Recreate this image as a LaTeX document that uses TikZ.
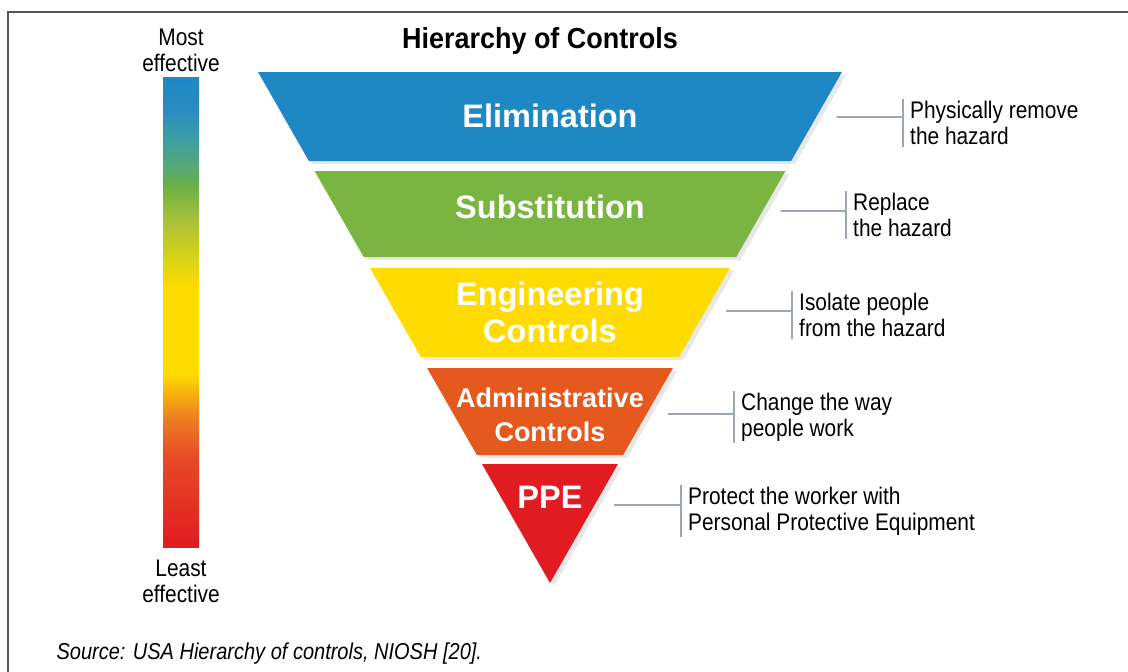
\documentclass[tikz,border=0pt]{standalone}
\usepackage{fontspec}
\setmainfont{Liberation Sans}
\newfontfamily\notefont[FakeStretch=0.87]{Liberation Sans}
\newfontfamily\titlefont[FakeStretch=0.93]{Liberation Sans}
\usetikzlibrary{shadows}

\definecolor{elimblue}{HTML}{1D88C4}
\definecolor{substgreen}{HTML}{7AB541}
\definecolor{engyellow}{HTML}{FFDC00}
\definecolor{adminorange}{HTML}{E5581E}
\definecolor{ppered}{HTML}{E11B22}
\definecolor{linkgray}{HTML}{9CA6AE}
\definecolor{framegray}{HTML}{555555}
\definecolor{scaleA}{HTML}{E64A26}
\definecolor{scaleB}{HTML}{EE7B22}
\definecolor{scaleC}{HTML}{F7B50C}
\definecolor{scaleD}{HTML}{DCD416}
\definecolor{scaleE}{HTML}{A6C03A}
\definecolor{scaleF}{HTML}{6AAF45}
\definecolor{scaleG}{HTML}{5BAA6E}
\definecolor{scaleH}{HTML}{3D9EA5}
\definecolor{scaleI}{HTML}{2A8CC0}

% the path covers 25bp to 75bp of the shading
\pgfdeclareverticalshading{effbar}{100bp}{%
  color(0bp)=(ppered); color(25bp)=(ppered); color(34.5bp)=(scaleA);
  color(38.5bp)=(scaleB); color(41.5bp)=(scaleC); color(43.5bp)=(engyellow);
  color(52.5bp)=(engyellow); color(55.5bp)=(scaleD); color(60bp)=(scaleE);
  color(63.5bp)=(scaleF); color(65bp)=(scaleG); color(68.5bp)=(scaleH);
  color(71.5bp)=(scaleI); color(75bp)=(elimblue); color(100bp)=(elimblue)}

\begin{document}
\begin{tikzpicture}[x=1pt, y=-1pt,
    layer/.style={drop shadow={shadow xshift=4pt, shadow yshift=-3pt, opacity=0.18}},
    layertext/.style={text=white, align=center, font=\bfseries\fontsize{32.5}{37}\selectfont},
    note/.style={anchor=west, align=left, inner xsep=7pt, inner ysep=2pt, font=\notefont\fontsize{24}{26}\selectfont},
    bar/.style={draw=linkgray, line width=1.6pt},
  ]
  \useasboundingbox (0,0) rectangle (1128,672);
  \draw[framegray, line width=1.6pt] (8,672) -- (8,12) -- (1128,12);

  \node[font=\titlefont\bfseries\fontsize{29}{32}\selectfont] (title) at (540,41) {Hierarchy of Controls};

  % effectiveness scale
  \shade[shading=effbar] (163,77) rectangle (199,547);
  \node[align=center, font=\notefont\fontsize{24}{26}\selectfont] (most) at (181,50) {Most\\effective};
  \node[align=center, font=\notefont\fontsize{24}{26}\selectfont] (least) at (181,581) {Least\\effective};

  % the five layers
  \fill[elimblue, layer] (258,72) -- (842,72) -- (791.1,161) -- (308.9,161) -- cycle;
  \fill[substgreen, layer] (314.6,171) -- (785.4,171) -- (736.3,257) -- (363.7,257) -- cycle;
  \fill[engyellow, layer] (370,268) -- (730,268) -- (679.1,357) -- (420.9,357) -- cycle;
  \fill[adminorange, layer] (427.1,368) -- (672.9,368) -- (623.1,455) -- (476.9,455) -- cycle;
  \fill[ppered, layer] (482,464) -- (618,464) -- (550,583) -- cycle;

  \node[layertext] (elim) at (550,116) {Elimination};
  \node[layertext] (subst) at (550,207) {Substitution};
  \node[layertext] (eng) at (550,312) {Engineering\\Controls};
  \node[layertext, font=\bfseries\fontsize{27}{34}\selectfont] (admin) at (550,415) {Administrative\\Controls};
  \node[layertext] (ppe) at (550,497) {PPE};

  % notes on the right
  \coordinate (elimcon) at (837,117);
  \coordinate (substcon) at (781,211);
  \coordinate (engcon) at (726,311);
  \coordinate (admincon) at (668,414);
  \coordinate (ppecon) at (614,505);

  \node[note] (elimnote) at (903,123) {Physically remove\\the hazard};
  \node[note] (substnote) at (846,215) {Replace\\the hazard};
  \node[note] (engnote) at (792,315) {Isolate people\\from the hazard};
  \node[note] (adminnote) at (734,417) {Change the way\\people work};
  \node[note] (ppenote) at (681,511) {Protect the worker with\\Personal Protective Equipment};

  \draw[bar] (elimnote.north west) -- (elimnote.south west);
  \draw[bar] (substnote.north west) -- (substnote.south west);
  \draw[bar] (engnote.north west) -- (engnote.south west);
  \draw[bar] (adminnote.north west) -- (adminnote.south west);
  \draw[bar] (ppenote.north west) -- (ppenote.south west);

  \draw[bar] (elimcon) -- (elimcon -| elimnote.west);
  \draw[bar] (substcon) -- (substcon -| substnote.west);
  \draw[bar] (engcon) -- (engcon -| engnote.west);
  \draw[bar] (admincon) -- (admincon -| adminnote.west);
  \draw[bar] (ppecon) -- (ppecon -| ppenote.west);

  \node[anchor=base west, font=\notefont\itshape\fontsize{23}{26}\selectfont] (source) at (53,659) {Source: USA Hierarchy of controls, NIOSH [20].};
\end{tikzpicture}
\end{document}
